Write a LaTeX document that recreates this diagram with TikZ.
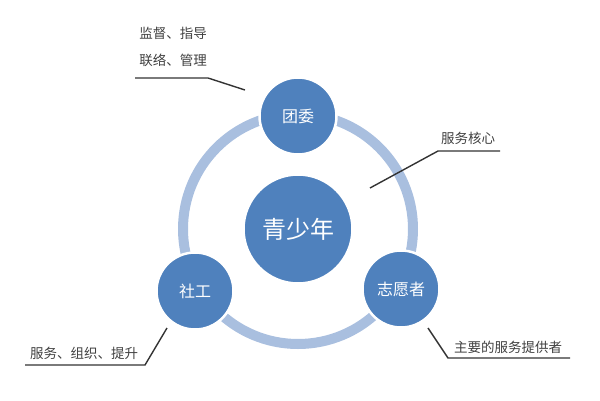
\documentclass[tikz,border=0pt]{standalone}
\usepackage{fontspec}
\setmainfont{Noto Sans CJK SC}
\usepackage{xcolor}
\definecolor{roleblue}{HTML}{4F81BD}
\definecolor{ringblue}{HTML}{A9BFDF}
\definecolor{labelgray}{HTML}{404040}
\usetikzlibrary{positioning}

\begin{document}
\begin{tikzpicture}[x=1pt, y=-1pt,
    every node/.style = {align=center, inner sep=1pt,
      text=labelgray, font=\fontsize{13.5}{16}\selectfont},
    role/.style = {shape=circle, draw=white, line width=2.5pt,
      fill=roleblue, text=white, minimum size=77pt, inner sep=0pt,
      font=\fontsize{16}{18}\selectfont}]
    \tikzstyle{callout}=[draw=black!80, line width=1.4pt]
  \useasboundingbox (0,0) rectangle (600,400);
  % ring behind the nodes
  \node[role, minimum size=109pt, font=\fontsize{24}{26}\selectfont]
    (youth) at (298,229) {青少年};
  \draw[ringblue, line width=10pt] (youth.center) circle[radius=115];
  \node[role] (league) at (298,116) {团委};
  \node[role] (social) at (195,291) {社工};
  \node[role] (volunteer) at (401,289) {志愿者};
  % callouts
  \node (superv) at (173,33) {监督、指导};
  \node[below=12pt of superv] (liaison) {联络、管理};
  \node (core) at (468,138) {服务核心};
  \node (serve) at (84,353) {服务、组织、提升};
  \node (provider) at (508,347) {主要的服务提供者};
  \coordinate (c1a) at (135,78);  \coordinate (c1b) at (208,78);
  \coordinate (c1c) at (245,90);
  \coordinate (c2a) at (500,151); \coordinate (c2b) at (438,151);
  \coordinate (c2c) at (370,188);
  \coordinate (c3a) at (25,365);  \coordinate (c3b) at (145,365);
  \coordinate (c3c) at (167,328);
  \coordinate (c4a) at (428,328); \coordinate (c4b) at (448,358);
  \coordinate (c4c) at (570,358);
  \draw[callout] (c1a) -- (c1b) -- (c1c);
  \draw[callout] (c2a) -- (c2b) -- (c2c);
  \draw[callout] (c3a) -- (c3b) -- (c3c);
  \draw[callout] (c4a) -- (c4b) -- (c4c);
\end{tikzpicture}
\end{document}
